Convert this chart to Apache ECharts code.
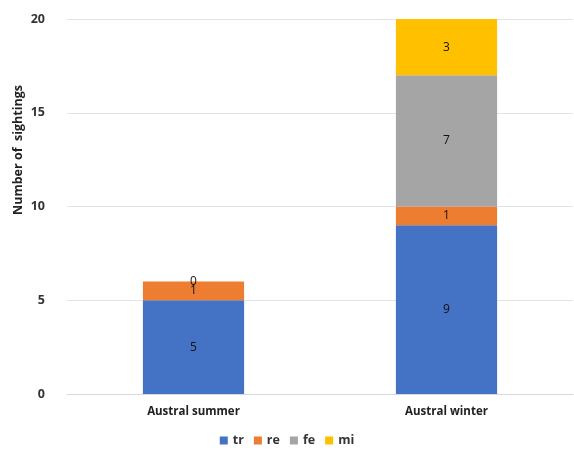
<!DOCTYPE html>
<html><head><meta charset="utf-8">
<script src="https://cdn.jsdelivr.net/npm/echarts@6/dist/echarts.min.js"></script>
<style>html,body{margin:0;padding:0;background:#fff}#c{width:574px;height:452px}</style>
</head><body><div id="c"></div>
<script>
var categories = ['Austral summer', 'Austral winter'];
var tr = [5, 9];
var re = [1, 1];
var fe = [0, 7];
var mi = [null, 3];
var yTicks = [0, 5, 10, 15, 20];
var seriesNames = ['tr', 're', 'fe', 'mi'];
var colors = ['#4472C4', '#ED7D31', '#A5A5A5', '#FFC000'];
var values = [tr, re, fe, mi];
var font = 'Open Sans';
var chart = echarts.init(document.getElementById('c'));
chart.setOption({
  animation: false,
  textStyle: {fontFamily: font},
  grid: {left: 67, right: 1, top: 19, bottom: 58, containLabel: false},
  legend: {
    bottom: 0, left: 'center', itemWidth: 8, itemHeight: 8, itemGap: 10, icon: 'rect',
    textStyle: {fontFamily: font, fontSize: 12.5, fontWeight: 'bold', color: '#333'},
    data: seriesNames
  },
  xAxis: {
    type: 'category', data: categories,
    axisLine: {lineStyle: {color: '#d9d9d9'}}, axisTick: {show: false},
    axisLabel: {fontFamily: font, fontSize: 11.5, fontWeight: 'bold', color: '#222', margin: 12}
  },
  yAxis: {
    type: 'value', min: yTicks[0], max: yTicks[yTicks.length - 1], interval: 5,
    axisLine: {show: false}, axisTick: {show: false},
    splitLine: {lineStyle: {color: '#e3e3e3'}},
    axisLabel: {fontFamily: font, fontSize: 12.5, fontWeight: 'bold', color: '#333', margin: 22}
  },
  graphic: [{
    type: 'text', left: 12, top: 85, rotation: Math.PI / 2,
    style: {text: 'Number of  sightings', fontFamily: font, fontSize: 12.5, fontWeight: 'bold', fill: '#222'}
  }],
  series: seriesNames.map(function (n, i) {
    return {
      name: n, type: 'bar', stack: 'all', data: values[i], barWidth: '40%',
      itemStyle: {color: colors[i]},
      label: {show: true, position: 'inside', color: '#111', fontFamily: font, fontSize: 12}
    };
  })
});
</script></body></html>
